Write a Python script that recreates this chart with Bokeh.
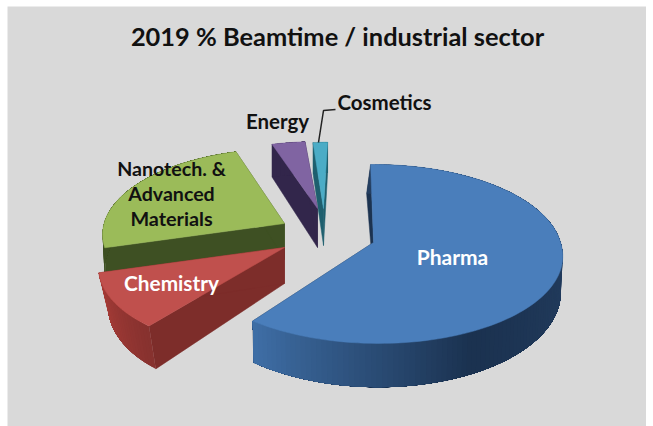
import numpy as np
from bokeh.plotting import figure
from bokeh.models import Range1d
from bokeh.core.properties import value
from bokeh.embed import file_html
from bokeh.resources import INLINE

# --- data ---
title = "2019 % Beamtime / industrial sector"
sectors = ["Pharma", "Chemistry", "Nanotech. & Advanced Materials", "Energy", "Cosmetics"]
shares = [60.5, 10.3, 24.6, 3.2, 1.4]

# --- styling / layout (page pixels) ---
START = -1.0
RX, RY, P, P2 = 187.0, 88.0, 0.128, 0.2
style = {
    "Pharma":    dict(ax=373, ay=242, sx=1.00, sy=1.00, skew=0, front=-5, T=35, shrink=0.99, lean=-4,
                      top="#4A7EBB", wall="#1C3350", rim=[(64, 112, 168), (27, 50, 80), (36, 62, 96)]),
    "Chemistry": dict(ax=284, ay=247, sx=0.97, sy=1.00, skew=0, front=18, T=36, shrink=0.95, lean=0,
                      top="#C0504D", wall="#7D2D2A", rim=[(135, 50, 47), (172, 62, 57)]),
    "Nanotech. & Advanced Materials":
                 dict(ax=284, ay=223, sx=0.965, sy=0.96, skew=0, front=0, T=36, shrink=0.99, lean=0,
                      top="#9BBB59", wall="#3E5023", rim=[(62, 80, 35), (62, 80, 35)]),
    "Energy":    dict(ax=317, ay=208, sx=1.00, sy=0.86, skew=5, front=0, T=39, shrink=1.0, lean=0,
                      top="#8064A2", wall="#32264B", rim=[(50, 38, 75), (50, 38, 75)]),
    "Cosmetics": dict(ax=323, ay=208, sx=1.00, sy=0.85, skew=7, front=0, T=37, shrink=1.0, lean=0,
                      top="#4BACC6", wall="#1E5F6E", rim=[(30, 95, 110), (30, 95, 110)]),
}
labels = [("Pharma", 452, 256, "white", 21),
          ("Chemistry", 171, 282, "white", 20.8),
          ("Nanotech. &", 171, 167.5, "#111111", 19.6),
          ("Advanced", 171, 192.5, "#111111", 19.6),
          ("Materials", 171, 217.5, "#111111", 19.8),
          ("Energy", 277, 120, "#111111", 20.5),
          ("Cosmetics", 384, 101, "#111111", 20.5)]
FONT = "Lato"

p = figure(width=646, height=426, output_backend="svg", toolbar_location=None,
           x_range=Range1d(7, 646), y_range=Range1d(426, 6),
           min_border=0, min_border_left=7, min_border_top=6,
           background_fill_color="#D9D9D9", border_fill_color="white")
p.axis.visible = False
p.grid.visible = False
p.outline_line_color = None


def top_pt(st, ang):
    a = np.radians(ang)
    c, s = np.sin(a), np.cos(a)
    w = 1 + P * s
    x = st["ax"] + RX * st["sx"] * c / w + st["skew"] * s + st["front"] * np.minimum(s, 0)
    return x, st["ay"] - RY * st["sy"] * s / w, s


def bot_pt(st, ang):
    x, y, s = top_pt(st, ang)
    xb = st["ax"] + (x - st["ax"]) * st["shrink"] + st["lean"] * np.maximum(s, 0)
    return xb, y + st["T"] / (1 + P2 * s)


def mix(stops, t):
    n = len(stops) - 1
    i = min(int(t * n), n - 1)
    f = t * n - i
    a, b = stops[i], stops[i + 1]
    return "#%02x%02x%02x" % tuple(int(a[k] + (b[k] - a[k]) * f) for k in range(3))


edges = START + np.concatenate([[0], np.cumsum(shares)]) * 3.6
slices = list(zip(sectors, edges[:-1], edges[1:]))

for name, a0, a1 in reversed(slices):
    st = style[name]
    ax, ay = st["ax"], st["ay"]
    # radial side walls
    for ang in (a0, a1):
        xt, yt, _ = top_pt(st, ang)
        xb, yb = bot_pt(st, ang)
        d = st["T"]
        p.patch([ax, xt, xb, ax], [ay, yt, yb, ay + d],
                fill_color=st["wall"], line_color=st["wall"], line_width=0.5)
    # outer rim wall, shaded from the far end back, each band overlapping the next
    steps = np.append(np.arange(a0, a1, 1.5), a1)
    xs, ys, cols = [], [], []
    for b0 in steps[:-1][::-1]:
        th = np.linspace(b0, a1, 40)
        tx, ty, _ = top_pt(st, th)
        ux, uy = bot_pt(st, th)
        xs.append(np.r_[tx, ux[::-1]])
        ys.append(np.r_[ty, uy[::-1]])
        if name == "Pharma":
            t = 1 - np.clip((b0 - 90) / (a1 - 90), 0, 1)
        else:
            t = (b0 - a0) / max(a1 - a0, 1)
        cols.append(mix(st["rim"], t))
    p.patches(xs[::-1], ys[::-1], fill_color=cols[::-1], line_color=None)
    # top face
    th = np.linspace(a0, a1, 120)
    tx, ty, _ = top_pt(st, th)
    p.patch(np.r_[ax, tx], np.r_[ay, ty], fill_color=st["top"], line_color=st["top"], line_width=0.5)

# leader line for the small slice
p.line([318, 323, 335], [142, 110, 109], line_color="#222222", line_width=1.5)

# texts
p.text([337], [35], text=[title], text_align="center", text_baseline="middle",
       text_font=value(FONT), text_font_style="bold", text_font_size="25.4px", text_color="#111111")
for txt, x, y, col, fs in labels:
    p.text([x], [y], text=[txt], text_align="center", text_baseline="middle",
           text_font=value(FONT), text_font_style="bold", text_font_size=f"{fs}px", text_color=col)

open("out.html", "w").write(file_html(p, INLINE))
